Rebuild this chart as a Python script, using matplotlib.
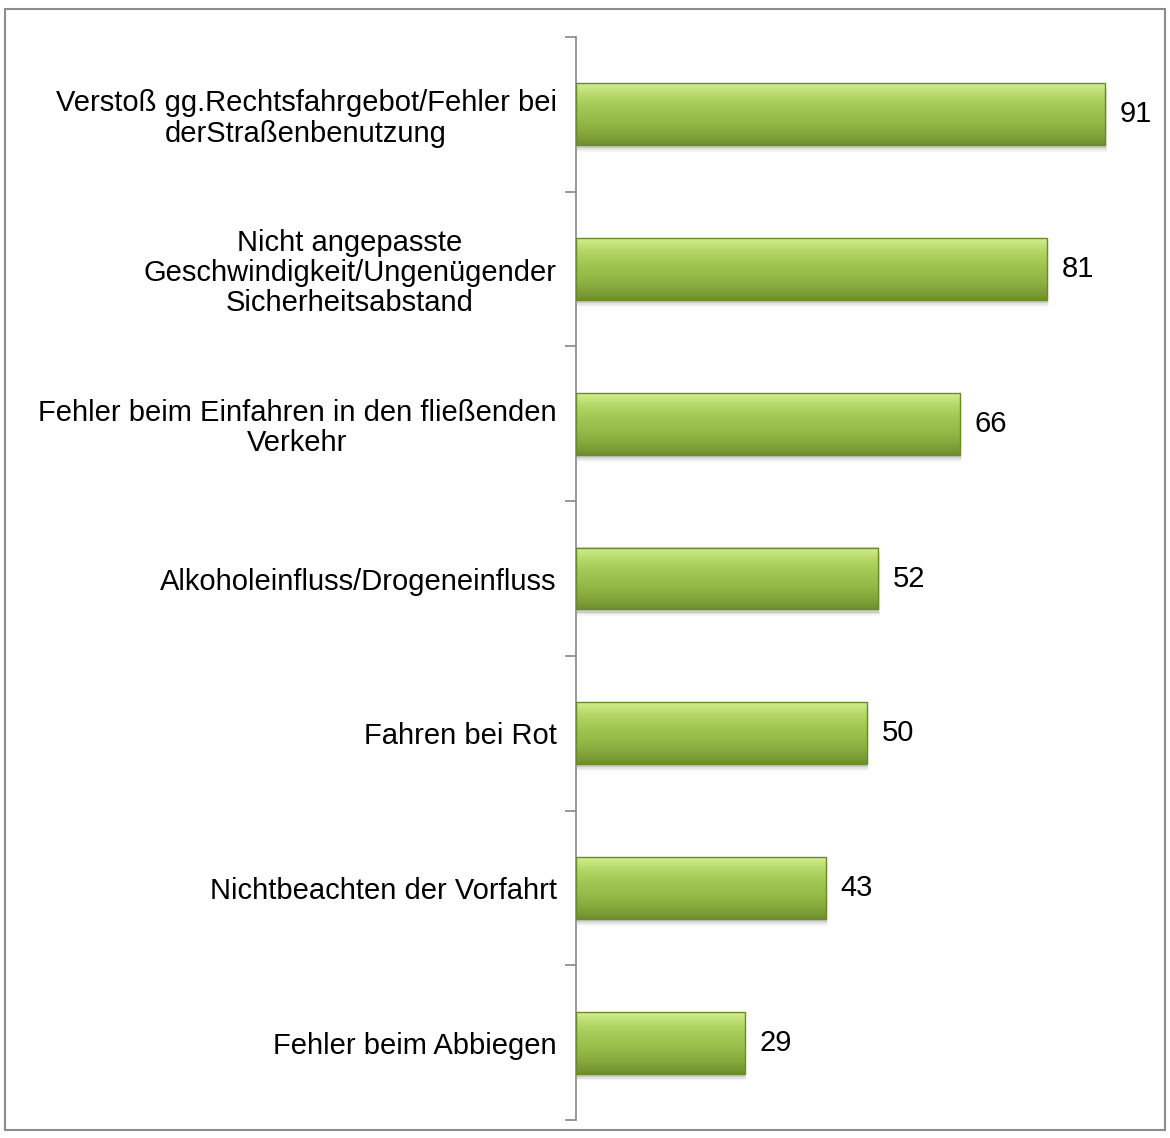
import numpy as np
import matplotlib
matplotlib.use("Agg")
from matplotlib import pyplot as plt
from matplotlib.patches import Rectangle
from matplotlib.colors import LinearSegmentedColormap

categories = [
    "Verstoß gg.Rechtsfahrgebot/Fehler bei\nderStraßenbenutzung",
    "Nicht angepasste\nGeschwindigkeit/Ungenügender\nSicherheitsabstand",
    "Fehler beim Einfahren in den fließenden\nVerkehr",
    "Alkoholeinfluss/Drogeneinfluss",
    "Fahren bei Rot",
    "Nichtbeachten der Vorfahrt",
    "Fehler beim Abbiegen",
]
values = [91, 81, 66, 52, 50, 43, 29]

plt.rcParams['font.family'] = ['Liberation Sans', 'DejaVu Sans']

fig = plt.figure(figsize=(11.7, 11.38), dpi=100)
ax = fig.add_axes([0.4923, 0.0158, 0.4997, 0.9517])

# gradient for the bars: light on top, darker at bottom
green = LinearSegmentedColormap.from_list(
    "g", ["#d4ee92", "#b4d767", "#a2c752", "#96bb49", "#86a93c", "#6f8f2e"])
grad = np.linspace(0, 1, 256).reshape(-1, 1)

n = len(values)
ypos = np.arange(n)
h = 0.4
for y, v in zip(ypos, values):
    # soft shadow under the bar
    for k, a in enumerate([0.10, 0.07, 0.04]):
        ax.add_patch(Rectangle((0.1, y - h / 2 + 0.02 + 0.012 * k), v + 0.1 * k, h,
                               color="#000000", alpha=a, lw=0, zorder=1))
    ax.imshow(grad, cmap=green, aspect="auto", extent=[0, v, y + h / 2, y - h / 2],
              zorder=2, interpolation="bilinear")
    ax.add_patch(Rectangle((0, y - h / 2), v, h, fill=False, ec="#6b8a2a", lw=1.0, zorder=3))
    ax.text(v + 2.5, y, str(v), va="center", ha="left", fontsize=21, color="#000000")

ax.set_xlim(0, 100.5)
ax.set_ylim(n - 0.5, -0.5)

ax.set_yticks(ypos)
ax.set_yticklabels(categories, fontsize=21, ha="right", multialignment="center",
                   linespacing=1.1)
ax.tick_params(axis="y", which="major", length=0, pad=14)
ax.set_yticks(np.arange(-0.5, n, 1), minor=True)
ax.tick_params(axis="y", which="minor", length=8, width=1.2, color="#868686")
ax.set_xticks([])

for s in ["top", "right", "bottom"]:
    ax.spines[s].set_visible(False)
ax.spines["left"].set_color("#868686")
ax.spines["left"].set_linewidth(1.2)

# outer chart border
fig.patches.append(Rectangle((0.0045, 0.007), 0.991, 0.985, transform=fig.transFigure,
                             fill=False, ec="#8c8c8c", lw=1.5))

fig.savefig("out.png", dpi=100)
